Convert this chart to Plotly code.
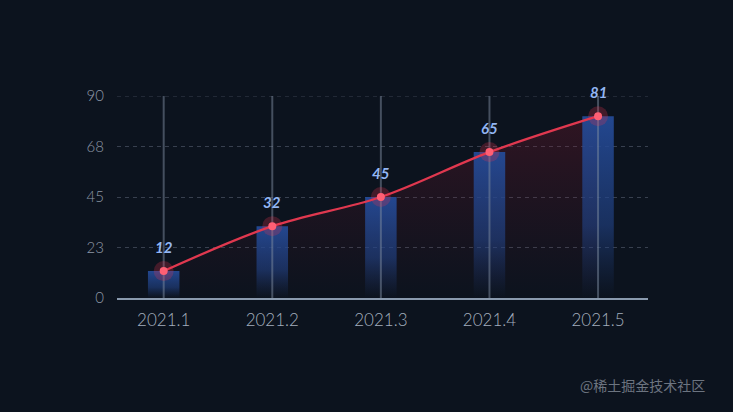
import plotly.graph_objects as go

categories = ["2021.1", "2021.2", "2021.3", "2021.4", "2021.5"]
values = [12, 32, 45, 65, 81]
y_ticks = [0, 22.5, 45, 67.5, 90]
y_tick_labels = ["0", "23", "45", "68", "90"]
y_max = 90

BG = "#0c131e"
GRID = "rgba(110,120,140,0.45)"
bar_w = 0.29
idx = list(range(len(categories)))

fig = go.Figure()

# red area under the line (drawn first, behind bars)
fig.add_trace(go.Scatter(
    x=idx, y=values, mode="lines", line=dict(width=0, shape="spline", smoothing=1.0),
    fill="tozeroy",
    fillgradient=dict(type="vertical", start=0, stop=max(values),
                      colorscale=[[0, "rgba(120,20,40,0.0)"], [1, "rgba(140,25,45,0.28)"]]),
    hoverinfo="skip", showlegend=False))

# gradient bars
for i, v in zip(idx, values):
    fig.add_trace(go.Scatter(
        x=[i - bar_w / 2, i + bar_w / 2, i + bar_w / 2, i - bar_w / 2, i - bar_w / 2],
        y=[0, 0, v, v, 0],
        mode="lines", line=dict(width=0), fill="toself",
        fillgradient=dict(type="vertical", start=0, stop=v,
                          colorscale=[[0, "rgba(30,60,120,0.0)"], [0.4, "rgba(34,68,138,0.6)"],
                                      [1, "rgba(36,74,150,0.95)"]]),
        hoverinfo="skip", showlegend=False))

# vertical category lines
vx, vy = [], []
for i in idx:
    vx += [i, i, None]
    vy += [0, y_max, None]
fig.add_trace(go.Scatter(x=vx, y=vy, mode="lines",
                         line=dict(color="rgba(125,140,160,0.5)", width=2),
                         hoverinfo="skip", showlegend=False))

# red line
fig.add_trace(go.Scatter(
    x=idx, y=values, mode="lines", line=dict(color="#e0384f", width=2.3, shape="spline", smoothing=1.0),
    hoverinfo="skip", showlegend=False))

# glow halos
fig.add_trace(go.Scatter(x=idx, y=values, mode="markers",
                         marker=dict(size=20, color="rgba(230,50,80,0.25)", line=dict(width=0)),
                         hoverinfo="skip", showlegend=False))
fig.add_trace(go.Scatter(x=idx, y=values, mode="markers",
                         marker=dict(size=8, color="#ff5f74", line=dict(width=0)),
                         hoverinfo="skip", showlegend=False))

annotations = [dict(x=i, y=v, text=str(v), showarrow=False, yshift=24,
                    font=dict(family="Lato", size=15, color="#93b6f3", style="italic", weight="bold"))
               for i, v in zip(idx, values)]
annotations.append(dict(text="@稀土掘金技术社区", xref="paper", yref="paper", x=1.0, y=-0.43,
                        xanchor="left", yanchor="middle", xshift=-70, showarrow=False,
                        font=dict(family="Noto Sans CJK SC", size=14, color="#6c7480")))

fig.update_layout(
    width=733, height=412,
    paper_bgcolor=BG, plot_bgcolor=BG,
    margin=dict(l=117, r=85, t=96, b=114),
    xaxis=dict(range=[-0.43, 4.46], tickvals=idx, ticktext=categories,
               showgrid=False, zeroline=False, showline=True, linecolor="#8a9aae", linewidth=2,
               tickfont=dict(family="Lato", size=17, color="#a3aebd", weight=300), ticks="",
               ticklabelstandoff=6, fixedrange=True),
    yaxis=dict(range=[0, y_max], tickvals=y_ticks, ticktext=y_tick_labels,
               showgrid=True, gridcolor=GRID, griddash="4px,4px", gridwidth=1,
               zeroline=False, showline=False,
               tickfont=dict(family="Lato", size=15, color="#8d97a6", weight=300), ticks="",
               ticklabelstandoff=12, fixedrange=True),
    annotations=annotations,
    shapes=[dict(type="line", xref="paper", yref="y", x0=0, x1=1, y0=y_max, y1=y_max,
                 line=dict(color=GRID, width=1, dash="4px,4px"), layer="below")],
)

fig.write_html("out.html", config={"displayModeBar": False},
               post_script="document.body.style.margin='0';document.body.style.background='%s';" % BG)
